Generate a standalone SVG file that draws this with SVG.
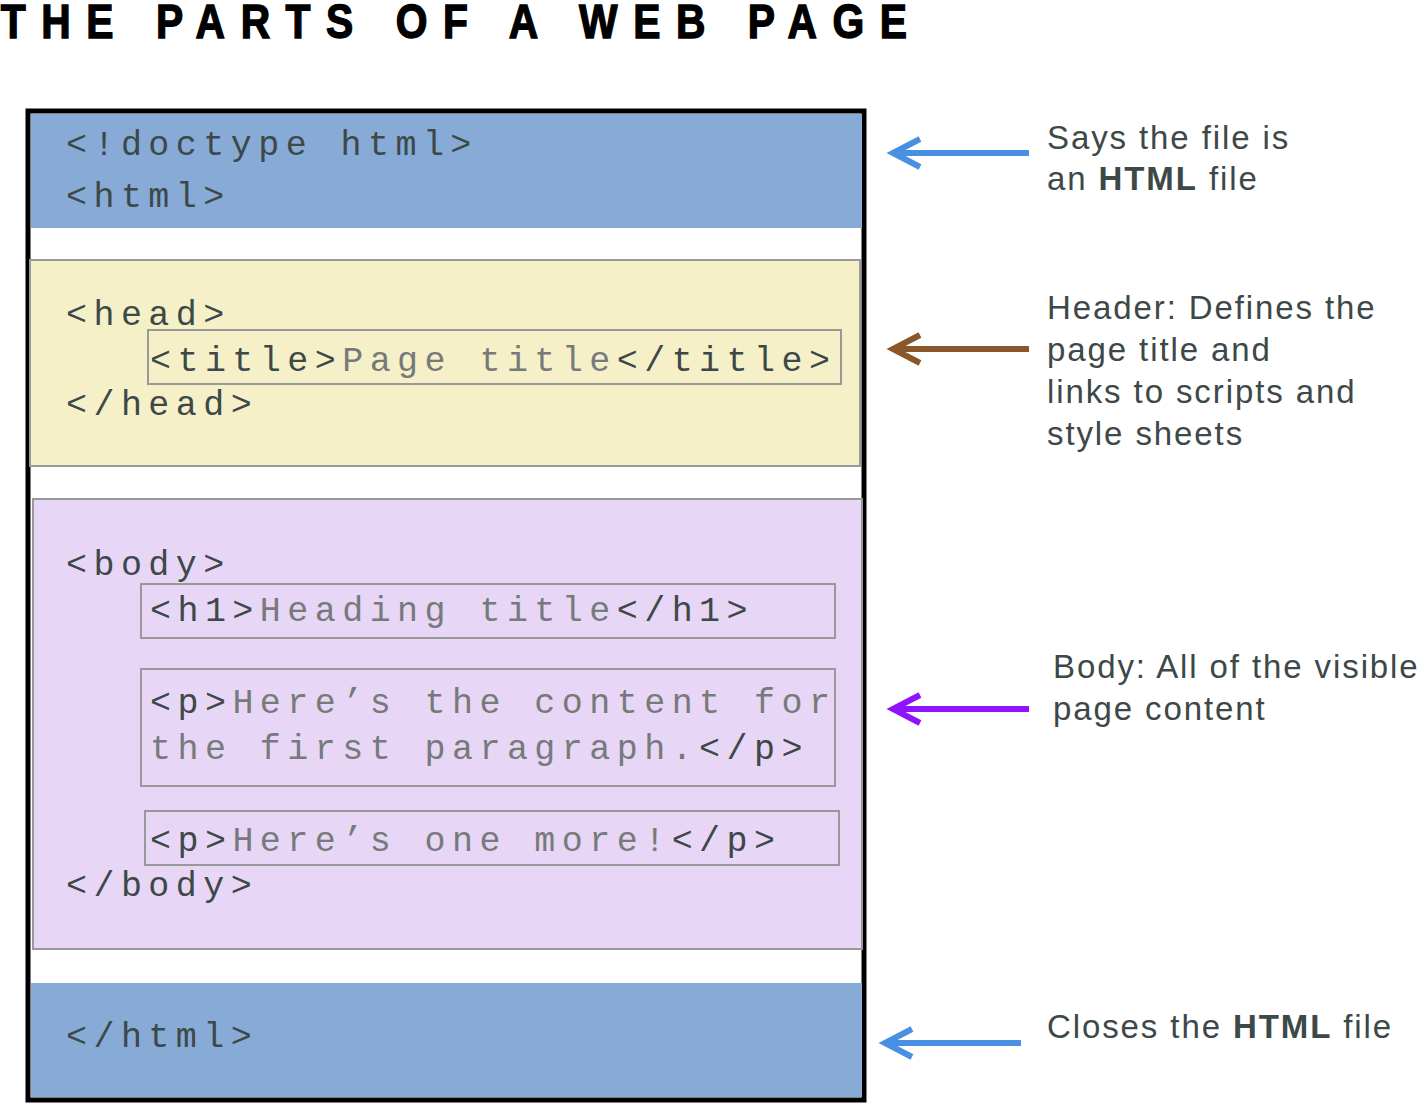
<svg xmlns="http://www.w3.org/2000/svg" width="1417" height="1103" viewBox="0 0 1417 1103">
<style>
.code{font-family:"Liberation Mono","DejaVu Sans Mono",monospace;font-size:35px;fill:#3d4848;letter-spacing:6.45px;}
.c{fill:#777a7a;}
.lbl{font-family:"Liberation Sans",Arial,sans-serif;font-size:33px;fill:#3d4848;letter-spacing:1.9px;}
.b{font-weight:bold;}
.box{fill:none;stroke:#999;stroke-width:2;}
.arr{fill:none;stroke-width:6;stroke-linecap:butt;}
</style>
<rect width="1417" height="1103" fill="#fff"/>
<text transform="scale(0.85,1)" x="1" y="38" font-family="Liberation Sans,Arial,sans-serif" font-weight="bold" font-size="48" fill="#000" stroke="#000" stroke-width="1.4" textLength="1066" lengthAdjust="spacing">THE PARTS OF A WEB PAGE</text>

<g id="page">
<rect x="28" y="111" width="836" height="989" fill="#fff" stroke="#000" stroke-width="5"/>
</g>

<g id="html-open">
<rect x="31" y="114" width="831" height="114" fill="#87abd6"/>
<text class="code" x="66" y="155">&lt;!doctype html&gt;</text>
<text class="code" x="66" y="207">&lt;html&gt;</text>
</g>

<g id="head">
<rect x="30" y="260" width="830" height="206" fill="#f5f0c8" stroke="#999" stroke-width="2"/>
<text class="code" x="66" y="325">&lt;head&gt;</text>
<rect class="box" x="148" y="330" width="693" height="54"/>
<text class="code" x="150" y="371">&lt;title&gt;<tspan class="c">Page title</tspan>&lt;/title&gt;</text>
<text class="code" x="66" y="415">&lt;/head&gt;</text>
</g>

<g id="body">
<rect x="33" y="499" width="829" height="450" fill="#e7d6f5" stroke="#999" stroke-width="2"/>
<text class="code" x="66" y="575">&lt;body&gt;</text>
<rect class="box" x="141" y="584" width="694" height="54"/>
<text class="code" x="150" y="621">&lt;h1&gt;<tspan class="c">Heading title</tspan>&lt;/h1&gt;</text>
<rect class="box" x="141" y="669" width="694" height="117"/>
<text class="code" x="150" y="713">&lt;p&gt;<tspan class="c">Here’s the content for</tspan></text>
<text class="code" x="150" y="759"><tspan class="c">the first paragraph.</tspan>&lt;/p&gt;</text>
<rect class="box" x="145" y="811" width="694" height="54"/>
<text class="code" x="150" y="851">&lt;p&gt;<tspan class="c">Here’s one more!</tspan>&lt;/p&gt;</text>
<text class="code" x="66" y="896">&lt;/body&gt;</text>
</g>

<g id="html-close">
<rect x="31" y="983" width="831" height="114" fill="#87abd6"/>
<text class="code" x="66" y="1047">&lt;/html&gt;</text>
</g>

<g id="connectors">
<path class="arr" stroke="#4a90e2" d="M1029 153 H893 M920 139 L893 153 L920 167"/>
<path class="arr" stroke="#8b572a" d="M1029 349 H893 M920 335 L893 349 L920 363"/>
<path class="arr" stroke="#9013fe" d="M1029 709 H893 M920 695 L893 709 L920 723"/>
<path class="arr" stroke="#4a90e2" d="M1021 1043 H885 M912 1029 L885 1043 L912 1057"/>
</g>

<g id="label-doctype">
<text class="lbl" x="1047" y="149">Says the file is</text>
<text class="lbl" x="1047" y="190">an <tspan class="b">HTML</tspan> file</text>
</g>
<g id="label-head">
<text class="lbl" x="1047" y="319">Header: Defines the</text>
<text class="lbl" x="1047" y="361">page title and</text>
<text class="lbl" x="1047" y="403">links to scripts and</text>
<text class="lbl" x="1047" y="445">style sheets</text>
</g>
<g id="label-body">
<text class="lbl" x="1053" y="678">Body: All of the visible</text>
<text class="lbl" x="1053" y="720">page content</text>
</g>
<g id="label-close">
<text class="lbl" x="1047" y="1038">Closes the <tspan class="b">HTML</tspan> file</text>
</g>
</svg>
